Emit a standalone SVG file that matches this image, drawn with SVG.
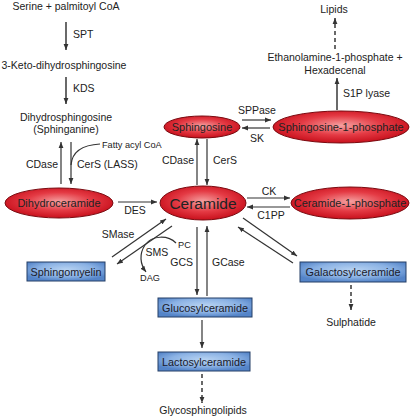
<svg xmlns="http://www.w3.org/2000/svg" width="412" height="416" viewBox="0 0 412 416">
<defs>
<radialGradient id="red" cx="50%" cy="45%" r="55%">
<stop offset="0%" stop-color="#f5a0a0"/>
<stop offset="55%" stop-color="#e43a44"/>
<stop offset="100%" stop-color="#c8101c"/>
</radialGradient>
<radialGradient id="blue" cx="50%" cy="40%" r="60%">
<stop offset="0%" stop-color="#b8d3f2"/>
<stop offset="60%" stop-color="#8bb2e4"/>
<stop offset="100%" stop-color="#5484c8"/>
</radialGradient>
<marker id="ah" viewBox="0 0 10 10" refX="10" refY="5" markerWidth="6" markerHeight="6" markerUnits="userSpaceOnUse" orient="auto">
<path d="M0,1 L10,5 L0,9 z" fill="#333"/>
</marker>
</defs>
<style>
text{font-family:"Liberation Sans",Arial,sans-serif;fill:#222}
.t{font-size:10.5px}
.s{font-size:9.2px}
.e{font-size:11px;text-anchor:middle}
.b{font-size:10.8px;text-anchor:middle;fill:#1a1a2a}
.c{text-anchor:middle}
.el{fill:url(#red);stroke:#7a0a10;stroke-width:1}
.bx{fill:url(#blue);stroke:#243f66;stroke-width:1}
.ln{fill:none;stroke:#333;stroke-width:1.2;marker-end:url(#ah)}
.th{fill:none;stroke:#444;stroke-width:1.6;marker-end:url(#ah)}
.da{fill:none;stroke:#444;stroke-width:1.6;stroke-dasharray:4 3;marker-end:url(#ah)}
</style>

<g id="connectors">
<line class="th" x1="66" y1="22" x2="66" y2="50"/>
<line class="th" x1="66" y1="77" x2="66" y2="104"/>
<line class="ln" x1="61" y1="184" x2="61" y2="142"/>
<line class="ln" x1="71" y1="142" x2="71" y2="184"/>
<path class="ln" style="marker-end:none" d="M71,165 C72,152 82,145 100,144"/>
<line class="ln" x1="118" y1="202" x2="157" y2="202"/>
<line class="ln" x1="197" y1="185" x2="197" y2="139"/>
<line class="ln" x1="207" y1="139" x2="207" y2="185"/>
<line class="ln" x1="242" y1="120" x2="271" y2="120"/>
<line class="ln" x1="270" y1="128" x2="242" y2="128"/>
<line class="th" x1="337" y1="110" x2="337" y2="78"/>
<line class="da" x1="335" y1="49" x2="335" y2="18"/>
<line class="ln" x1="247" y1="198" x2="290" y2="198"/>
<line class="ln" x1="290" y1="207" x2="247" y2="207"/>
<line class="ln" x1="243" y1="218" x2="297" y2="256"/>
<line class="ln" x1="293" y1="263" x2="238" y2="227"/>
<line class="ln" x1="112" y1="257" x2="166" y2="219"/>
<line class="ln" x1="172" y1="226" x2="117" y2="264"/>
<path class="ln" d="M176,243 C168,235 152,235 145,245 C139,254 140,264 146,272"/>
<line class="ln" x1="197" y1="227" x2="197" y2="295"/>
<line class="ln" x1="207" y1="296" x2="207" y2="226"/>
<line class="ln" x1="202" y1="320" x2="202" y2="348"/>
<line class="da" x1="202" y1="374" x2="202" y2="403"/>
<line class="da" x1="351" y1="285" x2="351" y2="310"/>
</g>

<g id="labels">
<text class="t c" x="66" y="10">Serine + palmitoyl CoA</text>
<text class="t" x="73" y="38">SPT</text>
<text class="t c" x="64" y="69">3-Keto-dihydrosphingosine</text>
<text class="t" x="73" y="92">KDS</text>
<text class="t c" x="66" y="121">Dihydrosphingosine</text>
<text class="t c" x="66" y="133">(Sphinganine)</text>
<text class="t" x="58" y="168" text-anchor="end">CDase</text>
<text class="t" x="77" y="168">CerS (LASS)</text>
<text class="s" x="102" y="148">Fatty acyl CoA</text>
<text class="t c" x="135" y="214">DES</text>
<text class="t" x="194" y="164" text-anchor="end">CDase</text>
<text class="t" x="213" y="164">CerS</text>
<text class="t c" x="257" y="114">SPPase</text>
<text class="t c" x="257" y="142">SK</text>
<text class="t" x="343" y="97">S1P lyase</text>
<text class="t c" x="335" y="61">Ethanolamine-1-phosphate +</text>
<text class="t c" x="335" y="74">Hexadecenal</text>
<text class="t c" x="334" y="13">Lipids</text>
<text class="t c" x="269" y="195">CK</text>
<text class="t c" x="271" y="219">C1PP</text>
<text class="t c" x="118" y="238">SMase</text>
<text class="t c" x="157" y="256">SMS</text>
<text class="s" x="178" y="248">PC</text>
<text class="s c" x="150" y="281">DAG</text>
<text class="t" x="193" y="266" text-anchor="end">GCS</text>
<text class="t" x="212" y="266">GCase</text>
<text class="t c" x="351" y="326">Sulphatide</text>
<text class="t c" x="203" y="414">Glycosphingolipids</text>
</g>

<g id="dihydroceramide">
<ellipse class="el" cx="59" cy="203" rx="54" ry="15"/>
<text class="e" x="59" y="207">Dihydroceramide</text>
</g>
<g id="ceramide">
<ellipse class="el" cx="203" cy="203" rx="43" ry="17"/>
<text x="203" y="208.5" style="font-size:15.5px;text-anchor:middle">Ceramide</text>
</g>
<g id="sphingosine">
<ellipse class="el" cx="202" cy="127" rx="38" ry="11"/>
<text class="e" x="202" y="131">Sphingosine</text>
</g>
<g id="s1p">
<ellipse class="el" cx="341" cy="127" rx="68" ry="16"/>
<text class="e" x="341" y="131">Sphingosine-1-phosphate</text>
</g>
<g id="c1p">
<ellipse class="el" cx="350" cy="203" rx="59" ry="16"/>
<text class="e" x="350" y="207">Ceramide-1-phosphate</text>
</g>
<g id="sphingomyelin">
<rect class="bx" x="27" y="262" width="78" height="19"/>
<text class="b" x="66" y="275.5">Sphingomyelin</text>
</g>
<g id="glucosylceramide">
<rect class="bx" x="158" y="298" width="94" height="19"/>
<text class="b" x="205" y="311.5">Glucosylceramide</text>
</g>
<g id="lactosylceramide">
<rect class="bx" x="158" y="352" width="92" height="19"/>
<text class="b" x="204" y="365.5">Lactosylceramide</text>
</g>
<g id="galactosylceramide">
<rect class="bx" x="300" y="262" width="106" height="20"/>
<text class="b" x="353" y="276">Galactosylceramide</text>
</g>
</svg>
